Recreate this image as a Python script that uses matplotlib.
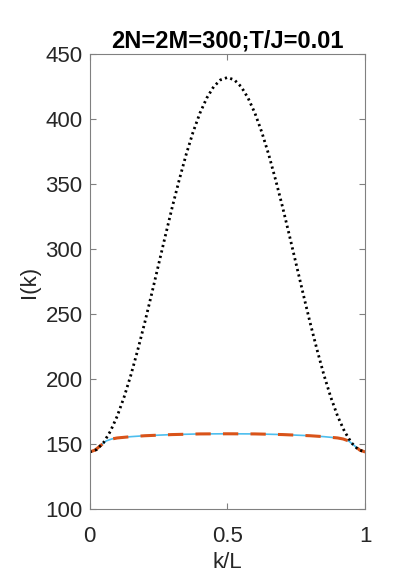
import matplotlib.pyplot as plt
import numpy as np

plt.rcParams['font.family'] = ['Liberation Sans', 'DejaVu Sans']

# black dotted curve, read at k/L steps of 0.025 (symmetric about 0.5)
k_black = np.round(np.arange(0, 1.0001, 0.025), 3)
half_black = [144, 145.8, 151.1, 159.8, 171.5, 186.2, 203.4, 222.8, 243.5, 265.5,
              288, 310.5, 332.5, 353.2, 372.6, 389.8, 404.5, 416.2, 424.9, 430.2, 432]
I_black = half_black + half_black[-2::-1]

# blue solid / orange dashed curve
k_flat = [0, 0.02, 0.04, 0.06, 0.08, 0.1, 0.15, 0.2, 0.3, 0.4, 0.5,
          0.6, 0.7, 0.8, 0.85, 0.9, 0.92, 0.94, 0.96, 0.98, 1.0]
I_flat = [144, 145.5, 149, 152.5, 154, 154.8, 155.8, 156.5, 157.4, 157.9, 158,
          157.9, 157.4, 156.5, 155.8, 154.8, 154, 152.5, 149, 145.5, 144]

fig = plt.figure(figsize=(4.15, 5.88), dpi=100)
ax = fig.add_axes([0.216, 0.134, 0.664, 0.774])

ax.plot(k_flat, I_flat, color=(0.301, 0.745, 0.933), lw=1.2)
ax.plot(k_flat, I_flat, color=(0.85, 0.325, 0.098), lw=2.2, dashes=(5, 4))
ax.plot(k_black, I_black, color='black', lw=2.0, dashes=(0.8, 1.2))

ax.set_xlim(0, 1)
ax.set_ylim(100, 450)
ax.set_xticks([0, 0.5, 1])
ax.set_xticklabels(['0', '0.5', '1'])
ax.set_yticks(range(100, 451, 50))
ax.tick_params(direction='in', top=True, right=True, length=4, width=0.8,
               colors='#808080', labelcolor='#262626', labelsize=16)
ax.tick_params(axis='x', pad=12)
ax.tick_params(axis='y', pad=5)
for s in ax.spines.values():
    s.set_color('#808080')
    s.set_linewidth(0.8)

ax.set_xlabel('k/L', fontsize=16, color='#262626', labelpad=4)
ax.set_ylabel('I(k)', fontsize=16, color='#262626', labelpad=4)
ax.set_title('2N=2M=300;T/J=0.01', fontsize=17, fontweight='bold', pad=5)

fig.savefig('out.png', dpi=100)
